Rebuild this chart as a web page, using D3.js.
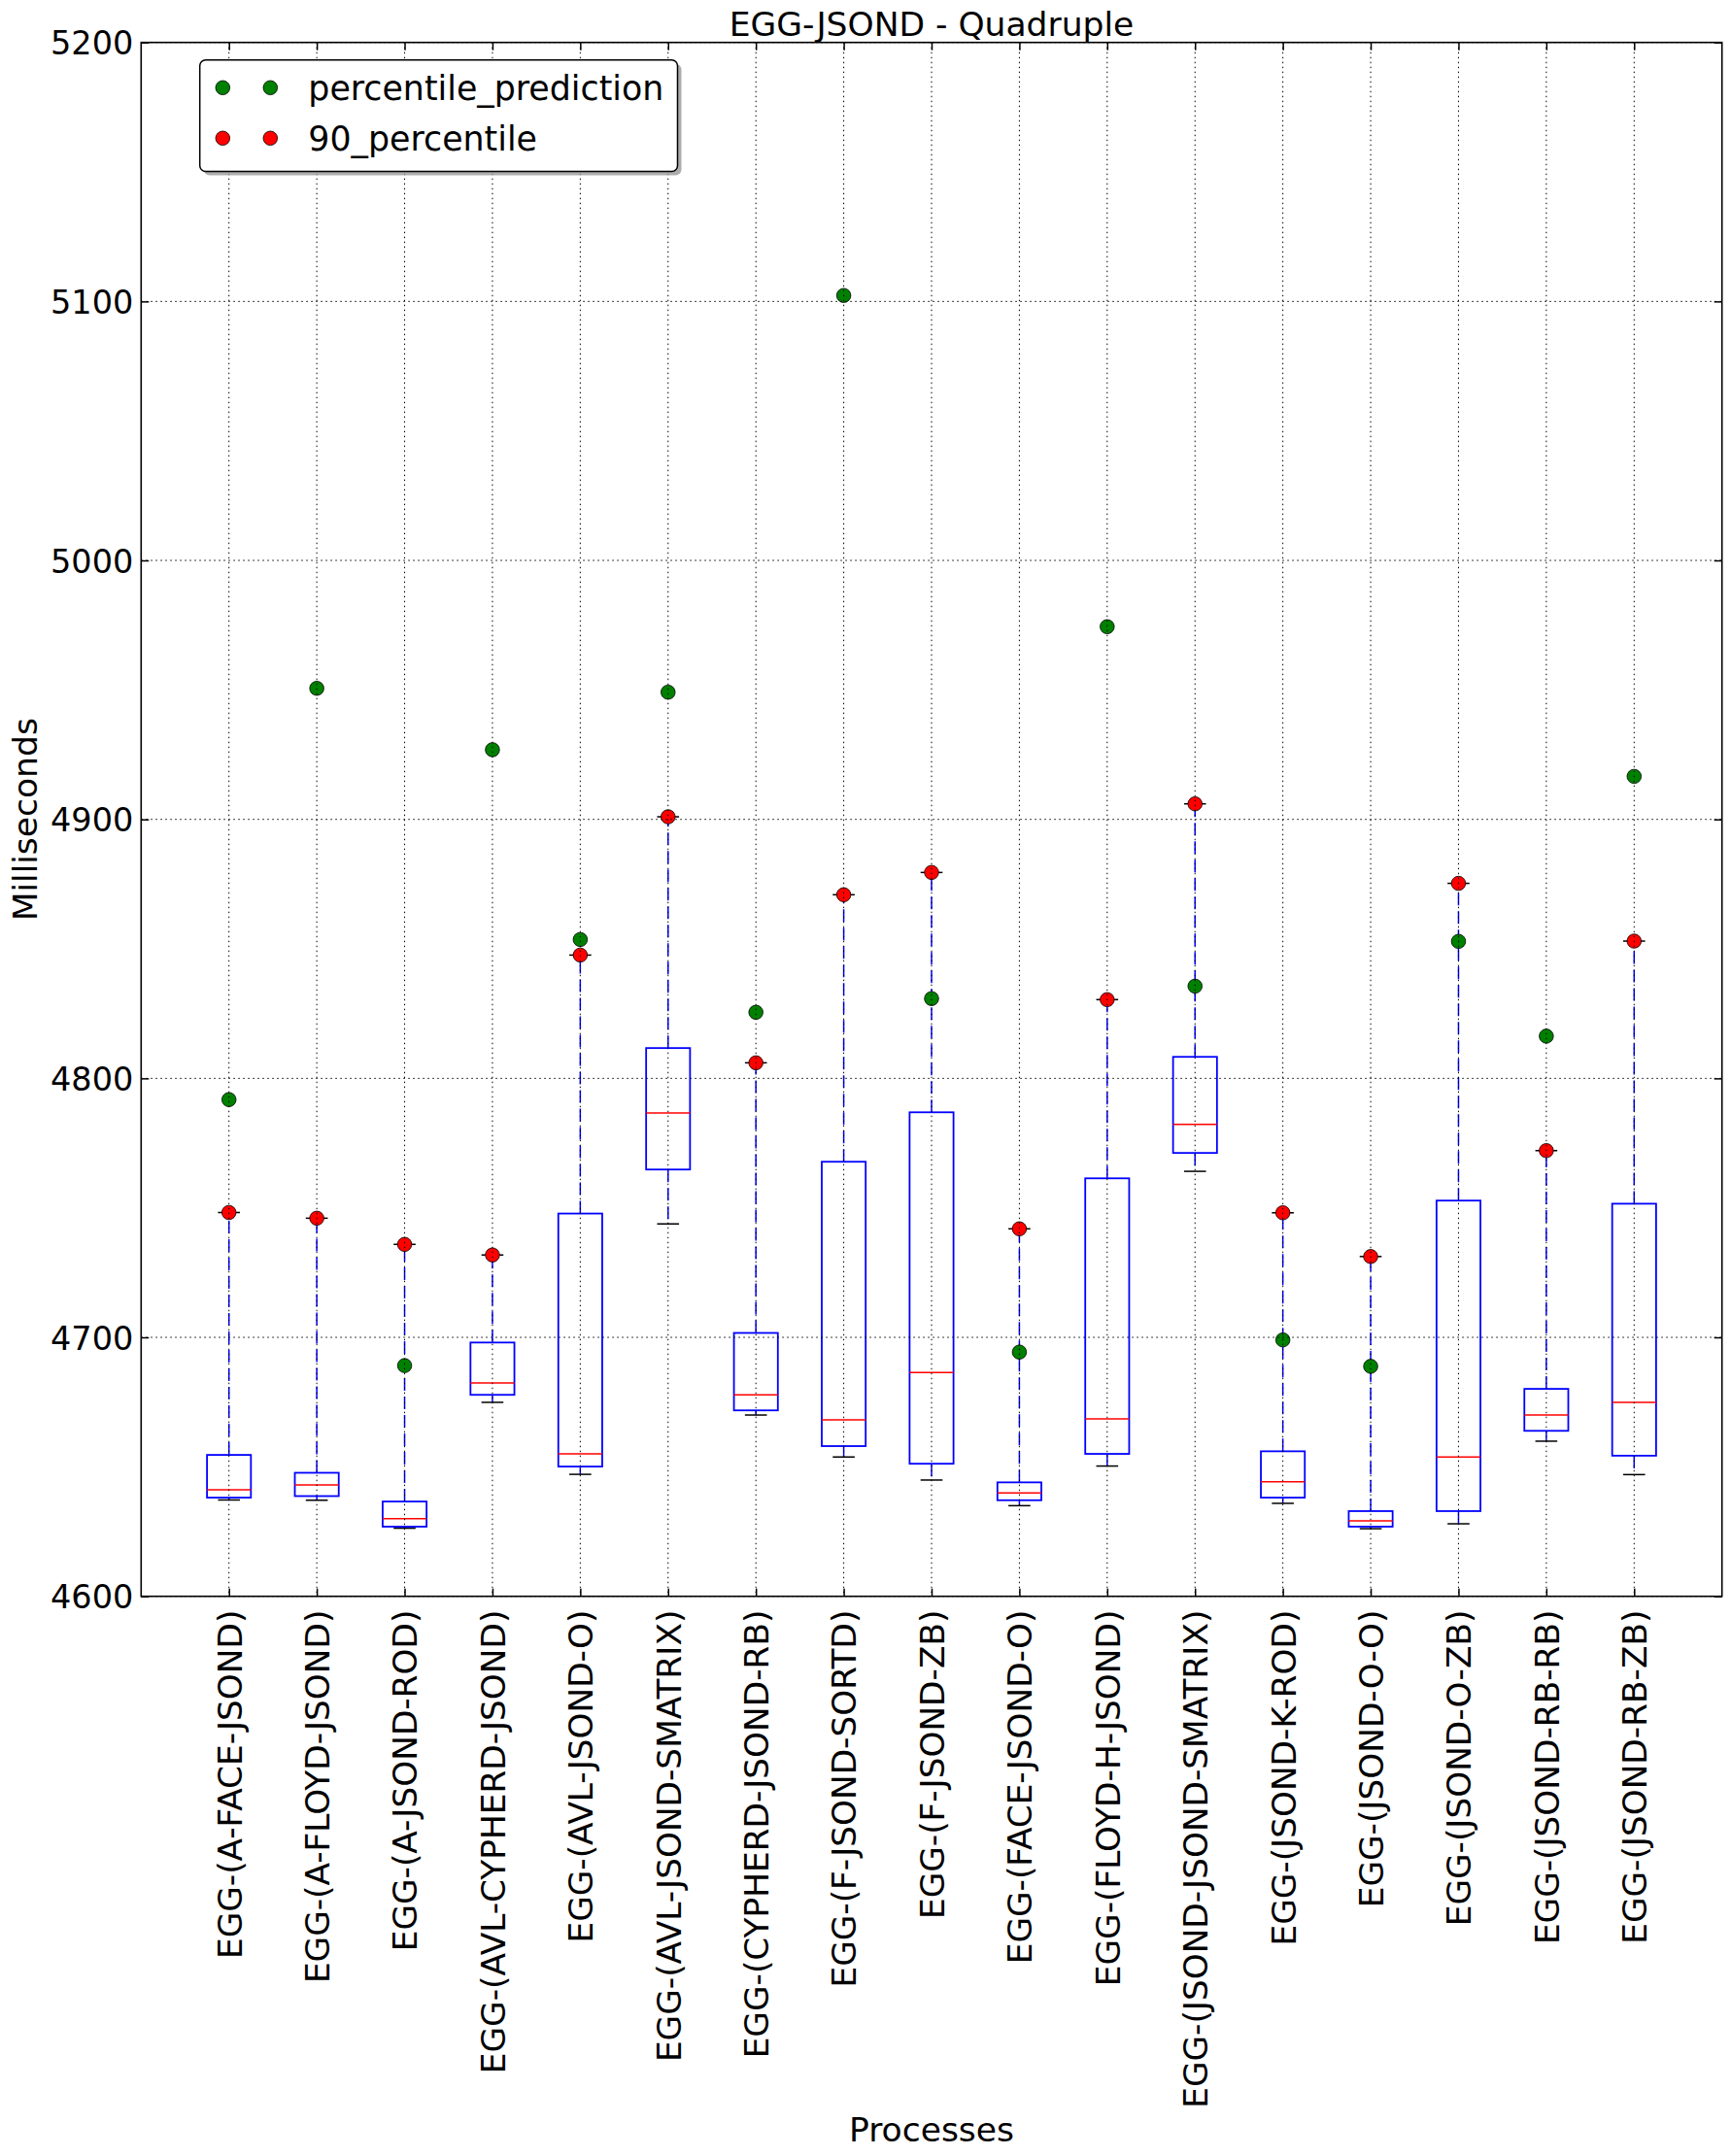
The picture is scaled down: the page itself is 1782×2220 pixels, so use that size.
<!DOCTYPE html>
<html>
<head>
<meta charset="utf-8">
<script src="https://cdn.jsdelivr.net/npm/d3@7"></script>
<style>
  html, body { margin: 0; padding: 0; background: #fff; }
  svg { display: block; }
  text { font-family: "DejaVu Sans", sans-serif; fill: #000; }
</style>
</head>
<body>
<svg id="chart" width="1782" height="2220"></svg>
<script>
// ---------------- data ----------------
const categories = [
  "EGG-(A-FACE-JSOND)", "EGG-(A-FLOYD-JSOND)", "EGG-(A-JSOND-ROD)", "EGG-(AVL-CYPHERD-JSOND)",
  "EGG-(AVL-JSOND-O)", "EGG-(AVL-JSOND-SMATRIX)", "EGG-(CYPHERD-JSOND-RB)", "EGG-(F-JSOND-SORTD)",
  "EGG-(F-JSOND-ZB)", "EGG-(FACE-JSOND-O)", "EGG-(FLOYD-H-JSOND)", "EGG-(JSOND-JSOND-SMATRIX)",
  "EGG-(JSOND-K-ROD)", "EGG-(JSOND-O-O)", "EGG-(JSOND-O-ZB)", "EGG-(JSOND-RB-RB)", "EGG-(JSOND-RB-ZB)"
];
const whiskerLow = [4637.2, 4637.1, 4626.3, 4674.9, 4647.1, 4743.8, 4670.0, 4653.8, 4644.9, 4635.0, 4650.3, 4764.1, 4635.9, 4626.1, 4628.0, 4659.9, 4647.0];
const q1         = [4638.1, 4638.7, 4626.9, 4677.8, 4650.1, 4764.8, 4671.8, 4658.0, 4651.2, 4637.1, 4655.0, 4771.2, 4638.1, 4626.9, 4632.9, 4663.9, 4654.3];
const medians    = [4641.1, 4643.0, 4630.0, 4682.4, 4655.0, 4786.6, 4677.8, 4668.1, 4686.4, 4639.9, 4668.5, 4782.2, 4644.2, 4629.1, 4653.8, 4670.0, 4674.9];
const q3         = [4654.6, 4647.7, 4636.6, 4698.0, 4747.8, 4811.7, 4701.7, 4767.8, 4786.9, 4644.0, 4761.4, 4808.3, 4656.0, 4632.9, 4752.8, 4680.1, 4751.6];
const whiskerHigh= [4748.2, 4746.0, 4735.9, 4731.8, 4847.6, 4901.0, 4806.0, 4870.9, 4879.5, 4741.9, 4830.4, 4906.0, 4748.1, 4731.2, 4875.3, 4772.1, 4853.0];
const percentile90 = [4748.2, 4746.0, 4735.9, 4731.8, 4847.6, 4901.0, 4806.0, 4870.9, 4879.5, 4741.9, 4830.4, 4906.0, 4748.1, 4731.2, 4875.3, 4772.1, 4853.0];
const percentilePrediction = [4791.8, 4950.6, 4689.1, 4926.9, 4853.6, 4949.1, 4825.5, 5102.3, 4830.8, 4694.3, 4974.4, 4835.6, 4699.0, 4688.8, 4852.9, 4816.3, 4916.6];
const yTicks = [4600, 4700, 4800, 4900, 5000, 5100, 5200];
const legendLabels = ["percentile_prediction", "90_percentile"];
const legendColors = ["#008000", "#ff0000"];
const titleText = "EGG-JSOND - Quadruple";
const xLabelText = "Processes";
const yLabelText = "Milliseconds";

// ---------------- layout ----------------
const L = 145.3, R = 1772.7, T = 43.7, B = 1643.7;
const svg = d3.select("#chart");
const positions = categories.map((c, i) => i + 1);

const x = d3.scaleLinear().domain([0, categories.length + 1]).range([L, R]);
const y = d3.scaleLinear().domain([4600, 5200]).range([B, T]);

const boxes = categories.map((c, i) => ({
  pos: i + 1, lo: whiskerLow[i], q1: q1[i], med: medians[i], q3: q3[i], hi: whiskerHigh[i]
}));

const plot = svg.append("g");

// whiskers
plot.selectAll(".whisker-up").data(boxes).join("line")
  .attr("x1", d => x(d.pos)).attr("x2", d => x(d.pos))
  .attr("y1", d => y(d.q3)).attr("y2", d => y(d.hi))
  .attr("stroke", "#0000ff").attr("stroke-width", 1.5).attr("stroke-dasharray", "13,6");
plot.selectAll(".whisker-down").data(boxes).join("line")
  .attr("x1", d => x(d.pos)).attr("x2", d => x(d.pos))
  .attr("y1", d => y(d.q1)).attr("y2", d => y(d.lo))
  .attr("stroke", "#0000ff").attr("stroke-width", 1.5).attr("stroke-dasharray", "13,6");

// caps
const capHalf = 0.125;
["hi", "lo"].forEach(k => {
  plot.selectAll(".cap-" + k).data(boxes).join("line")
    .attr("x1", d => x(d.pos - capHalf)).attr("x2", d => x(d.pos + capHalf))
    .attr("y1", d => y(d[k])).attr("y2", d => y(d[k]))
    .attr("stroke", "#000").attr("stroke-width", 1.5);
});

// boxes
const boxHalf = 0.25;
plot.selectAll(".box").data(boxes).join("rect")
  .attr("x", d => x(d.pos - boxHalf))
  .attr("width", d => x(d.pos + boxHalf) - x(d.pos - boxHalf))
  .attr("y", d => y(d.q3))
  .attr("height", d => y(d.q1) - y(d.q3))
  .attr("fill", "none").attr("stroke", "#0000ff").attr("stroke-width", 1.8);

// medians
plot.selectAll(".median").data(boxes).join("line")
  .attr("x1", d => x(d.pos - boxHalf)).attr("x2", d => x(d.pos + boxHalf))
  .attr("y1", d => y(d.med)).attr("y2", d => y(d.med))
  .attr("stroke", "#ff0000").attr("stroke-width", 1.5);

// points
plot.selectAll(".pred").data(percentilePrediction).join("circle")
  .attr("cx", (d, i) => x(positions[i])).attr("cy", d => y(d)).attr("r", 7.3)
  .attr("fill", legendColors[0]).attr("stroke", "#000").attr("stroke-width", 0.8);
plot.selectAll(".p90").data(percentile90).join("circle")
  .attr("cx", (d, i) => x(positions[i])).attr("cy", d => y(d)).attr("r", 7.3)
  .attr("fill", legendColors[1]).attr("stroke", "#000").attr("stroke-width", 0.8);

// grid (drawn on top, classic matplotlib style)
const grid = svg.append("g");
grid.selectAll(".gx").data(positions).join("line")
  .attr("x1", d => x(d)).attr("x2", d => x(d)).attr("y1", T).attr("y2", B)
  .attr("stroke", "#000").attr("stroke-width", 1).attr("stroke-dasharray", "1.5,3.5");
grid.selectAll(".gy").data(yTicks).join("line")
  .attr("x1", L).attr("x2", R).attr("y1", d => y(d)).attr("y2", d => y(d))
  .attr("stroke", "#000").attr("stroke-width", 1).attr("stroke-dasharray", "1.5,3.5");

// axes
const yAxis = svg.append("g").attr("transform", `translate(${L},0)`)
  .call(d3.axisLeft(y).tickValues(yTicks).tickSize(-8).tickPadding(8).tickFormat(d3.format("d")));
yAxis.select(".domain").remove();
yAxis.selectAll("text").attr("font-size", "33.5px").attr("font-family", "DejaVu Sans").attr("dy", "0.36em");
yAxis.selectAll("line").attr("stroke-width", 1.5);

const yAxisR = svg.append("g").attr("transform", `translate(${R},0)`)
  .call(d3.axisRight(y).tickValues(yTicks).tickSize(-8).tickFormat(""));
yAxisR.select(".domain").remove();
yAxisR.selectAll("line").attr("stroke-width", 1.5);

const xAxis = svg.append("g").attr("transform", `translate(0,${B})`)
  .call(d3.axisBottom(x).tickValues(positions).tickSize(-8).tickFormat(d => categories[d - 1]));
xAxis.select(".domain").remove();
xAxis.selectAll("line").attr("stroke-width", 1.5);
xAxis.selectAll("text")
  .attr("font-size", "34.3px").attr("font-family", "DejaVu Sans")
  .attr("transform", "rotate(-90)")
  .attr("x", -14).attr("y", 0).attr("dy", "0.36em")
  .attr("text-anchor", "end");

const xAxisT = svg.append("g").attr("transform", `translate(0,${T})`)
  .call(d3.axisTop(x).tickValues(positions).tickSize(-8).tickFormat(""));
xAxisT.select(".domain").remove();
xAxisT.selectAll("line").attr("stroke-width", 1.5);

// frame
svg.append("rect").attr("x", L).attr("y", T).attr("width", R - L).attr("height", B - T)
  .attr("fill", "none").attr("stroke", "#000").attr("stroke-width", 1.6);

// titles
svg.append("text").attr("x", (L + R) / 2).attr("y", 37).attr("text-anchor", "middle")
  .attr("font-size", "34.5px").text(titleText);
svg.append("text").attr("x", (L + R) / 2).attr("y", 2205).attr("text-anchor", "middle")
  .attr("font-size", "34.5px").text(xLabelText);
svg.append("text").attr("transform", `translate(38,${(T + B) / 2}) rotate(-90)`)
  .attr("text-anchor", "middle").attr("font-size", "34.5px").text(yLabelText);

// legend
const lg = svg.append("g");
const lx = 205.7, ly = 61.7, lw = 491.8, lh = 114.8;
lg.append("rect").attr("x", lx + 4).attr("y", ly + 4).attr("width", lw).attr("height", lh)
  .attr("rx", 6).attr("fill", "#999").attr("opacity", 0.8);
lg.append("rect").attr("x", lx).attr("y", ly).attr("width", lw).attr("height", lh)
  .attr("rx", 6).attr("fill", "#fff").attr("stroke", "#000").attr("stroke-width", 1.5);
const rowY = [90.3, 142.3];
legendLabels.forEach((lab, i) => {
  [229.3, 278.3].forEach(mx => {
    lg.append("circle").attr("cx", mx).attr("cy", rowY[i]).attr("r", 7.3)
      .attr("fill", legendColors[i]).attr("stroke", "#000").attr("stroke-width", 0.8);
  });
  lg.append("text").attr("x", 317.3).attr("y", rowY[i] + 12.5)
    .attr("font-size", "34.8px").text(lab);
});
</script>
</body>
</html>
